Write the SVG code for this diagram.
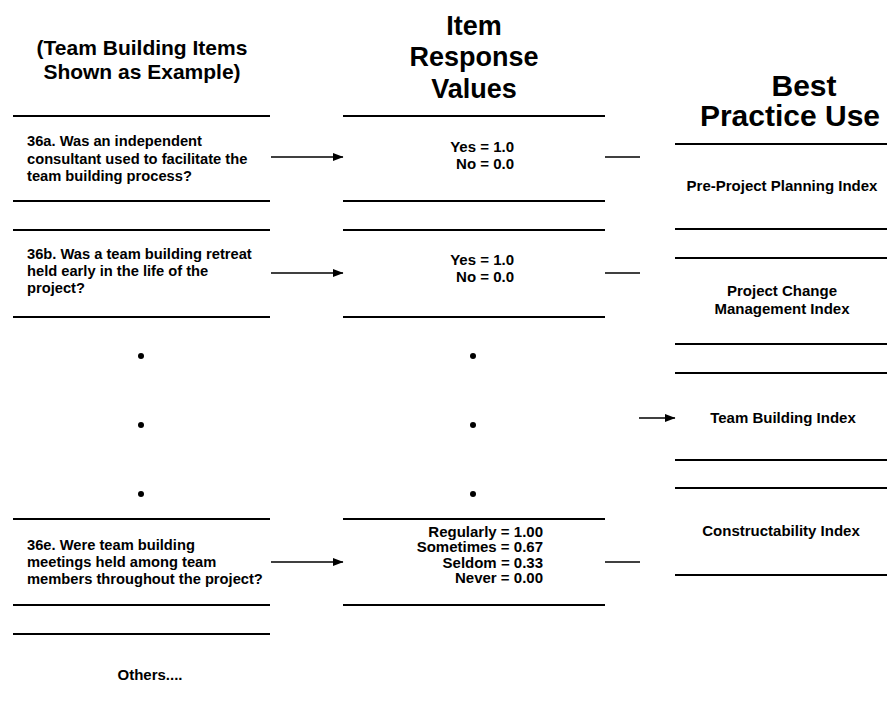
<svg xmlns="http://www.w3.org/2000/svg" width="887" height="717" viewBox="0 0 887 717">
  <style>
    text { font-family: "Liberation Sans", Arial, Helvetica, sans-serif; font-weight: bold; fill: #000; }
    .head-l { font-size: 21px; text-anchor: middle; }
    .head { font-size: 27px; text-anchor: middle; }
    .head-r { font-size: 30px; text-anchor: middle; }
    .q { font-size: 14.7px; }
    .val { font-size: 15px; text-anchor: end; }
    .idx { font-size: 15px; text-anchor: middle; }
    .rule { stroke: #000; stroke-width: 1.8; fill: none; }
    .conn { stroke: #000; stroke-width: 1.6; fill: none; }
    .dot { fill: #000; }
  </style>
  <defs>
    <marker id="arrow" markerWidth="12" markerHeight="10" refX="10" refY="5" orient="auto" markerUnits="userSpaceOnUse">
      <path d="M0,1 L10.5,5 L0,9 Z" fill="#000"/>
    </marker>
  </defs>

  <!-- Column headings -->
  <g id="heading-items">
    <text class="head-l" x="142" y="55">(Team Building Items</text>
    <text class="head-l" x="142" y="79">Shown as Example)</text>
  </g>
  <g id="heading-values">
    <text class="head" x="474" y="35">Item</text>
    <text class="head" x="474" y="66">Response</text>
    <text class="head" x="474" y="98">Values</text>
  </g>
  <g id="heading-use">
    <text class="head-r" x="804" y="96">Best</text>
    <text class="head-r" x="790" y="126">Practice Use</text>
  </g>

  <!-- Survey items -->
  <g id="item-36a">
    <line class="rule" x1="13" y1="116" x2="270" y2="116"/>
    <text class="q" x="27" y="146">36a.  Was an independent</text>
    <text class="q" x="27" y="163.5">consultant used to facilitate the</text>
    <text class="q" x="27" y="181">team building process?</text>
    <line class="rule" x1="13" y1="201" x2="270" y2="201"/>
  </g>
  <g id="item-36b">
    <line class="rule" x1="13" y1="230" x2="270" y2="230"/>
    <text class="q" x="27" y="259">36b.  Was a team building retreat</text>
    <text class="q" x="27" y="276">held early in the life of the</text>
    <text class="q" x="27" y="293">project?</text>
    <line class="rule" x1="13" y1="317" x2="270" y2="317"/>
  </g>
  <g id="item-ellipsis">
    <circle class="dot" cx="141" cy="356" r="3"/>
    <circle class="dot" cx="141" cy="425" r="3"/>
    <circle class="dot" cx="141" cy="494" r="3"/>
  </g>
  <g id="item-36e">
    <line class="rule" x1="13" y1="519" x2="270" y2="519"/>
    <text class="q" x="27" y="550">36e.  Were team building</text>
    <text class="q" x="27" y="567">meetings held among team</text>
    <text class="q" x="27" y="584">members throughout the project?</text>
    <line class="rule" x1="13" y1="605" x2="270" y2="605"/>
  </g>
  <g id="item-others">
    <line class="rule" x1="13" y1="634" x2="270" y2="634"/>
    <text class="idx" x="150" y="680">Others....</text>
  </g>

  <!-- Response values -->
  <g id="values-36a">
    <line class="rule" x1="343" y1="116" x2="605" y2="116"/>
    <text class="val" x="514" y="152">Yes = 1.0</text>
    <text class="val" x="514" y="169">No = 0.0</text>
    <line class="rule" x1="343" y1="201" x2="605" y2="201"/>
  </g>
  <g id="values-36b">
    <line class="rule" x1="343" y1="230" x2="605" y2="230"/>
    <text class="val" x="514" y="265">Yes = 1.0</text>
    <text class="val" x="514" y="282">No = 0.0</text>
    <line class="rule" x1="343" y1="317" x2="605" y2="317"/>
  </g>
  <g id="values-ellipsis">
    <circle class="dot" cx="473" cy="356" r="3"/>
    <circle class="dot" cx="473" cy="425" r="3"/>
    <circle class="dot" cx="473" cy="494" r="3"/>
  </g>
  <g id="values-36e">
    <line class="rule" x1="343" y1="519" x2="605" y2="519"/>
    <text class="val" x="543" y="536.5">Regularly = 1.00</text>
    <text class="val" x="543" y="552">Sometimes = 0.67</text>
    <text class="val" x="543" y="567.5">Seldom = 0.33</text>
    <text class="val" x="543" y="583">Never = 0.00</text>
    <line class="rule" x1="343" y1="605" x2="605" y2="605"/>
  </g>

  <!-- Best practice indices -->
  <g id="index-preproject">
    <line class="rule" x1="675" y1="144" x2="887" y2="144"/>
    <text class="idx" x="782" y="191">Pre-Project Planning Index</text>
    <line class="rule" x1="675" y1="229" x2="887" y2="229"/>
  </g>
  <g id="index-change">
    <line class="rule" x1="675" y1="258" x2="887" y2="258"/>
    <text class="idx" x="782" y="296">Project Change</text>
    <text class="idx" x="782" y="314">Management Index</text>
    <line class="rule" x1="675" y1="344" x2="887" y2="344"/>
  </g>
  <g id="index-team">
    <line class="rule" x1="675" y1="373" x2="887" y2="373"/>
    <text class="idx" x="783" y="423">Team Building Index</text>
    <line class="rule" x1="675" y1="460" x2="887" y2="460"/>
  </g>
  <g id="index-constructability">
    <line class="rule" x1="675" y1="488" x2="887" y2="488"/>
    <text class="idx" x="781" y="536">Constructability Index</text>
    <line class="rule" x1="675" y1="575" x2="887" y2="575"/>
  </g>

  <!-- Connectors -->
  <g id="connectors">
    <line class="conn" x1="271" y1="157" x2="343" y2="157" marker-end="url(#arrow)"/>
    <line class="conn" x1="271" y1="273" x2="343" y2="273" marker-end="url(#arrow)"/>
    <line class="conn" x1="271" y1="562" x2="343" y2="562" marker-end="url(#arrow)"/>
    <line class="conn" x1="605" y1="157" x2="640" y2="157"/>
    <line class="conn" x1="605" y1="273" x2="640" y2="273"/>
    <line class="conn" x1="605" y1="562" x2="640" y2="562"/>
    <line class="conn" x1="639" y1="418" x2="675" y2="418" marker-end="url(#arrow)"/>
  </g>
</svg>
